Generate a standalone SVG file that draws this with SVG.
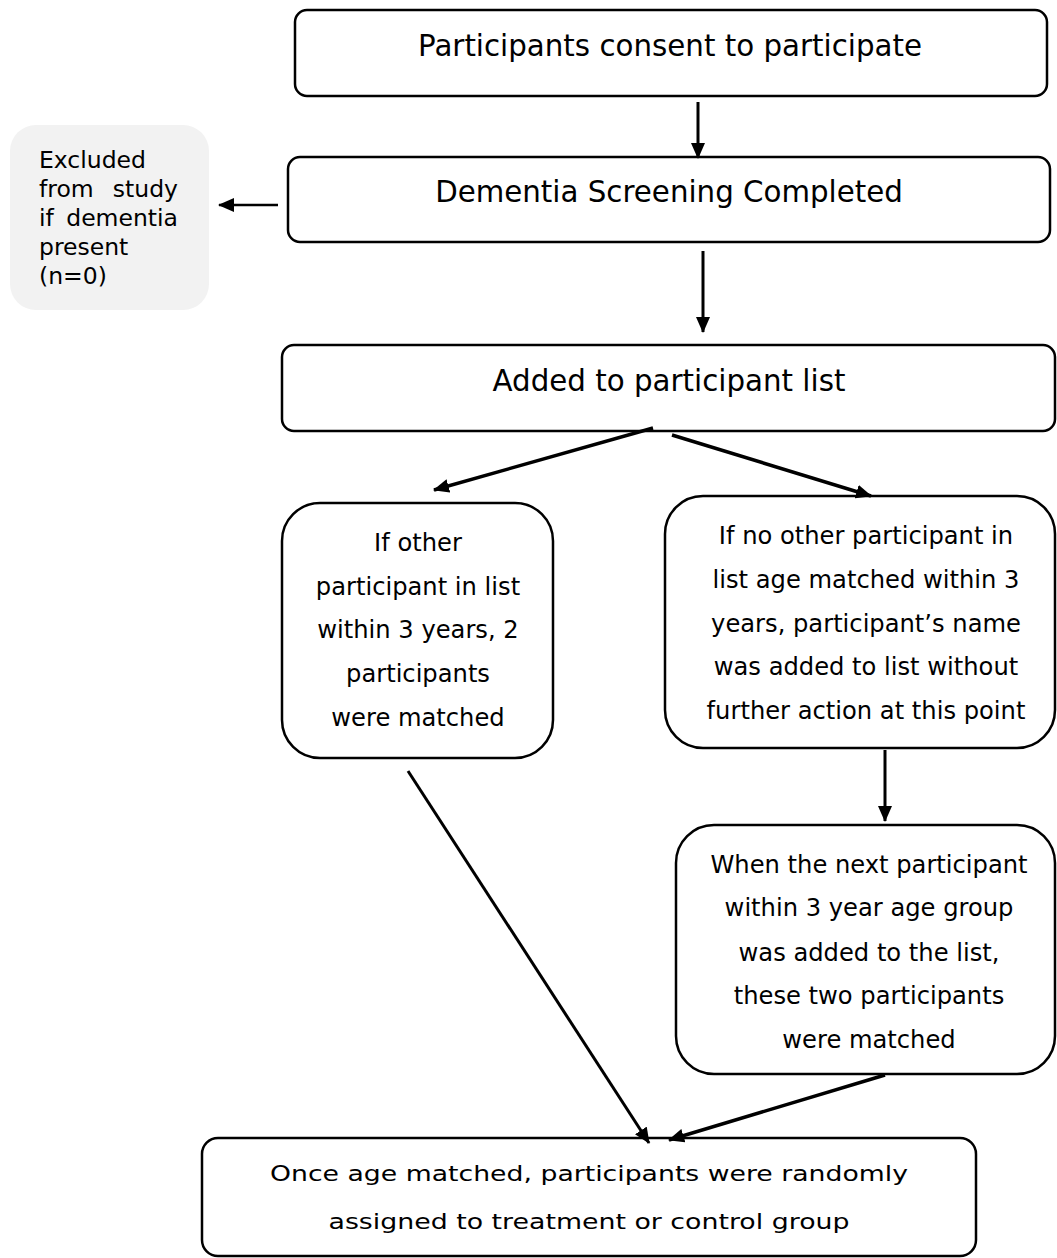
<svg xmlns="http://www.w3.org/2000/svg" width="1057" height="1258" viewBox="0 0 1057 1258">
  <style>
    .box { fill: #ffffff; stroke: #000000; stroke-width: 2.5; }
    .note { fill: #f2f2f2; stroke: none; }
    .t { font-family: "DejaVu Sans", Verdana, sans-serif; fill: #000000; }
    .big { font-size: 29.3px; text-anchor: middle; }
    .low { font-size: 22px; text-anchor: middle; }
    .mid { font-size: 24.2px; text-anchor: middle; }
    .small { font-size: 23.5px; }
    .end { text-anchor: end; }
    .link { stroke: #000000; fill: none; }
  </style>
  <defs>
    <marker id="arrow" viewBox="0 0 16 14" refX="15" refY="7" markerWidth="16" markerHeight="14" markerUnits="userSpaceOnUse" orient="auto">
      <path d="M0,0 L16,7 L0,14 z" fill="#000000"/>
    </marker>
  </defs>

  <g id="consent">
    <rect class="box" x="295" y="10" width="752" height="86" rx="12"/>
    <text class="t big" x="670" y="56">Participants consent to participate</text>
  </g>

  <g id="screening">
    <rect class="box" x="288" y="157" width="762" height="85" rx="12"/>
    <text class="t big" x="669" y="202">Dementia Screening Completed</text>
  </g>

  <g id="excluded">
    <rect class="note" x="10" y="125" width="199" height="185" rx="26"/>
    <text class="t small" x="39" y="168">Excluded</text>
    <text class="t small" x="39" y="197">from</text>
    <text class="t small end" x="178" y="197">study</text>
    <text class="t small" x="39" y="226">if</text>
    <text class="t small end" x="178" y="226">dementia</text>
    <text class="t small" x="39" y="255">present</text>
    <text class="t small" x="39" y="284">(n=0)</text>
  </g>

  <g id="list">
    <rect class="box" x="282" y="345" width="773" height="86" rx="12"/>
    <text class="t big" x="669" y="391">Added to participant list</text>
  </g>

  <g id="matched">
    <rect class="box" x="282" y="503" width="271" height="255" rx="38"/>
    <text class="t mid" x="418" y="551">If other</text>
    <text class="t mid" x="418" y="595">participant in list</text>
    <text class="t mid" x="418" y="638">within 3 years, 2</text>
    <text class="t mid" x="418" y="682">participants</text>
    <text class="t mid" x="418" y="726">were matched</text>
  </g>

  <g id="unmatched">
    <rect class="box" x="665" y="496" width="390" height="252" rx="38"/>
    <text class="t mid" x="866" y="544">If no other participant in</text>
    <text class="t mid" x="866" y="588">list age matched within 3</text>
    <text class="t mid" x="866" y="632">years, participant’s name</text>
    <text class="t mid" x="866" y="675">was added to list without</text>
    <text class="t mid" x="866" y="719">further action at this point</text>
  </g>

  <g id="next">
    <rect class="box" x="676" y="825" width="379" height="249" rx="38"/>
    <text class="t mid" x="869" y="873">When the next participant</text>
    <text class="t mid" x="869" y="916">within 3 year age group</text>
    <text class="t mid" x="869" y="961">was added to the list,</text>
    <text class="t mid" x="869" y="1004">these two participants</text>
    <text class="t mid" x="869" y="1048">were matched</text>
  </g>

  <g id="assigned">
    <rect class="box" x="202" y="1138" width="774" height="118" rx="16"/>
    <text class="t low" x="589" y="1181" textLength="638" lengthAdjust="spacingAndGlyphs">Once age matched, participants were randomly</text>
    <text class="t low" x="589" y="1229" textLength="521" lengthAdjust="spacingAndGlyphs">assigned to treatment or control group</text>
  </g>

  <g id="connectors">
    <line class="link" x1="698" y1="102" x2="698" y2="158" stroke-width="3" marker-end="url(#arrow)"/>
    <line class="link" x1="278" y1="205" x2="219" y2="205" stroke-width="2.5" marker-end="url(#arrow)"/>
    <line class="link" x1="703" y1="251" x2="703" y2="332" stroke-width="3" marker-end="url(#arrow)"/>
    <line class="link" x1="653" y1="428" x2="434" y2="490" stroke-width="3.5" marker-end="url(#arrow)"/>
    <line class="link" x1="672" y1="435" x2="871" y2="496" stroke-width="3.5" marker-end="url(#arrow)"/>
    <line class="link" x1="885" y1="750" x2="885" y2="821" stroke-width="3" marker-end="url(#arrow)"/>
    <line class="link" x1="408" y1="771" x2="649" y2="1143" stroke-width="3" marker-end="url(#arrow)"/>
    <line class="link" x1="885" y1="1075" x2="669" y2="1140" stroke-width="3.5" marker-end="url(#arrow)"/>
  </g>
</svg>
